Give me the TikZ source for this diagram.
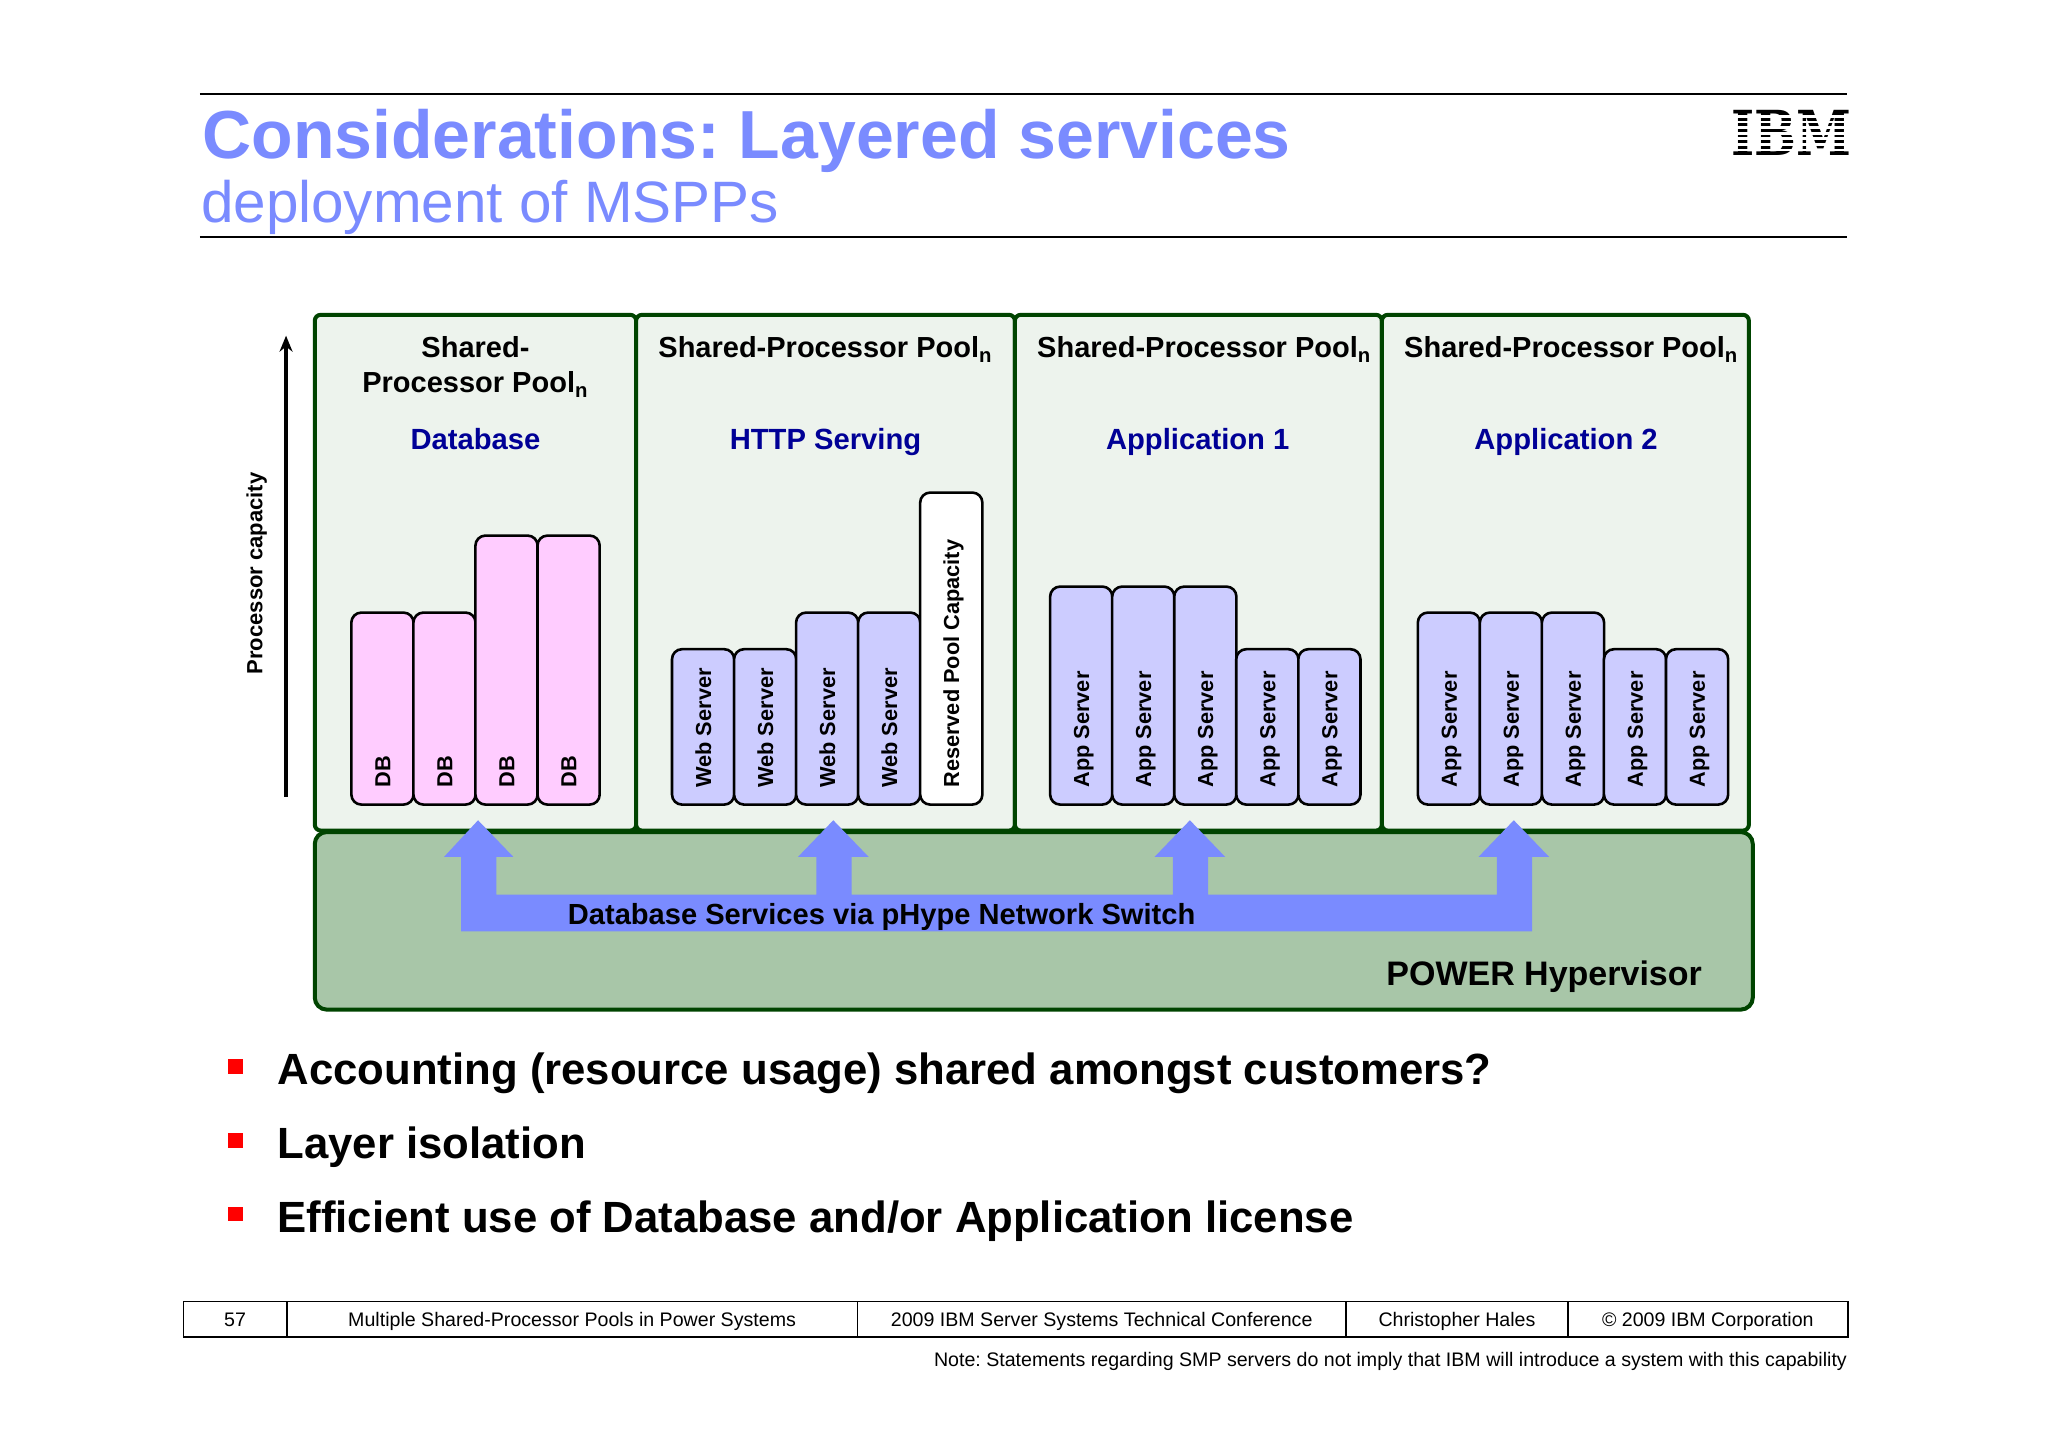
\documentclass[tikz,border=0pt]{standalone}
\usepackage{fontspec}
\setmainfont{Liberation Sans}
\setsansfont{Liberation Sans}
\newfontfamily\logofont{DejaVu Serif}
\frenchspacing
\usetikzlibrary{arrows.meta}
\definecolor{ibmblue}{RGB}{122,139,255}
\definecolor{poolfill}{RGB}{237,243,237}
\definecolor{poolline}{RGB}{0,68,0}
\definecolor{hypfill}{RGB}{168,198,168}
\definecolor{dbpink}{RGB}{255,204,255}
\definecolor{srvlilac}{RGB}{204,204,255}
\definecolor{poolname}{RGB}{0,0,150}
\tikzset{
	align=center,
	plain/.style={
		inner sep=0pt,
		outer sep=0pt,
	},
	bar/.style={
		draw,
		line width=1.3pt,
		rounded corners=5pt,
		rotate=90,
		anchor=north west,
		outer sep=0pt,
		inner xsep=8.5pt,
		inner ysep=0pt,
		minimum height=31.1pt,
		text width=#1-17pt,
		text height=7.9pt,
		text depth=0pt,
		align=flush left,
		font=\bfseries\fontsize{10.88}{13}\selectfont,
	},
	dbbar/.style={bar=#1, fill=dbpink},
	srvbar/.style={bar=#1, fill=srvlilac},
	freebar/.style={bar=#1, fill=white},
	pool/.style={
		draw=poolline,
		fill=poolfill,
		line width=2pt,
		rounded corners=3pt,
		anchor=north west,
		outer sep=0pt,
		minimum height=257.9pt,
	},
	hypervisor/.style={
		draw=poolline,
		fill=hypfill,
		line width=2pt,
		rounded corners=6pt,
		anchor=north west,
		outer sep=0pt,
	},
	poolhead/.style={plain, font=\bfseries\fontsize{14.5}{17.6}\selectfont},
	workload/.style={plain, anchor=base, text=poolname, font=\bfseries\fontsize{14.6}{17.6}\selectfont},
	bullet/.style={plain, fill=red, minimum size=7.4pt},
	point/.style={plain, anchor=base west, font=\bfseries\fontsize{21.85}{26}\selectfont},
	cell/.style={
		draw,
		line width=0.9pt,
		anchor=north west,
		outer sep=0pt,
		inner sep=0pt,
		minimum height=17.6pt,
		text height=7.2pt,
		text depth=0pt,
		font=\fontsize{9.8}{12}\selectfont,
	},
	rule/.style={line width=1pt},
	logostripe/.style={draw=white, line width=1.3pt},
}
\begin{document}
\begin{tikzpicture}[x=0.65306pt,y=-0.65306pt]
	\useasboundingbox[fill=white] (0,0) rectangle (1568,1108);

	% heading
	\coordinate (ruletopl) at (153,72);
	\coordinate (ruletopr) at (1414,72);
	\coordinate (rulebotl) at (153,181.5);
	\coordinate (rulebotr) at (1414,181.5);
	\draw[rule] (ruletopl) -- (ruletopr);
	\draw[rule] (rulebotl) -- (rulebotr);
	\node[plain, anchor=base west, text=ibmblue, font=\bfseries\fontsize{34}{40}\selectfont] (title) at (155,121) {Considerations: Layered services};
	\node[plain, anchor=base west, text=ibmblue, font=\fontsize{29.2}{34}\selectfont] (subtitle) at (154,170) {deployment of MSPPs};

	\node[plain, xscale=0.8, font=\logofont\bfseries\fontsize{31}{34}\selectfont] (logo) at (1371.5,102) {IBM};
	\draw[logostripe] (1320,89.2) -- (1422,89.2) (1320,93.5) -- (1422,93.5) (1320,97.8) -- (1422,97.8) (1320,102) -- (1422,102) (1320,106.2) -- (1422,106.2) (1320,110.5) -- (1422,110.5) (1320,114.8) -- (1422,114.8);

	% capacity axis
	\coordinate (capbase) at (219,610);
	\coordinate (captop) at (219,257);
	\draw[line width=1.6pt, -{Stealth[length=8pt,width=6.5pt]}] (capbase) -- (captop);
	\node[plain, rotate=90, font=\bfseries\fontsize{11}{13}\selectfont] (capacity) at (196.5,439) {Processor capacity};

	% pools
	\node[pool, minimum width=160.7pt] (pooldb) at (241,241) {};
	\node[pool, minimum width=189.4pt] (poolhttp) at (487,241) {};
	\node[pool, minimum width=183.5pt] (poolappone) at (777,241) {};
	\node[pool, minimum width=183.5pt] (poolapptwo) at (1058,241) {};

	\node[poolhead] (headdb) at (364,281) {Shared-\\Processor Pool\textsubscript{n}};
	\node[poolhead] (headhttp) at (632,267.5) {Shared-Processor Pool\textsubscript{n}};
	\node[poolhead] (headappone) at (922,267.5) {Shared-Processor Pool\textsubscript{n}};
	\node[poolhead] (headapptwo) at (1203,267.5) {Shared-Processor Pool\textsubscript{n}};

	\node[workload] (namedb) at (364,344) {Database};
	\node[workload] (namehttp) at (632,344) {HTTP Serving};
	\node[workload] (nameappone) at (917,344) {Application 1};
	\node[workload] (nameapptwo) at (1199,344) {Application 2};

	% partitions
	\node[dbbar=96pt] (dba) at (269,616) {DB};
	\node[dbbar=96pt] (dbb) at (316.5,616) {DB};
	\node[dbbar=134.5pt] (dbc) at (364,616) {DB};
	\node[dbbar=134.5pt] (dbd) at (411.5,616) {DB};

	\node[srvbar=77.7pt] (weba) at (514.5,616) {Web Server};
	\node[srvbar=77.7pt] (webb) at (562,616) {Web Server};
	\node[srvbar=96pt] (webc) at (609.5,616) {Web Server};
	\node[srvbar=96pt] (webd) at (657,616) {Web Server};
	\node[freebar=156pt] (reserved) at (704.5,616) {Reserved Pool Capacity};

	\node[srvbar=109pt] (appa) at (804,616) {App Server};
	\node[srvbar=109pt] (appb) at (851.5,616) {App Server};
	\node[srvbar=109pt] (appc) at (899,616) {App Server};
	\node[srvbar=77.7pt] (appd) at (946.5,616) {App Server};
	\node[srvbar=77.7pt] (appe) at (994,616) {App Server};

	\node[srvbar=96pt] (appf) at (1085.5,616) {App Server};
	\node[srvbar=96pt] (appg) at (1133,616) {App Server};
	\node[srvbar=96pt] (apph) at (1180.5,616) {App Server};
	\node[srvbar=77.7pt] (appi) at (1228,616) {App Server};
	\node[srvbar=77.7pt] (appj) at (1275.5,616) {App Server};

	% hypervisor and switch
	\node[hypervisor, minimum width=719pt, minimum height=88.8pt] (hyper) at (241,637) {};
	\fill[ibmblue] (353,713) -- (353,656) -- (340,656) -- (366,628) -- (393,656) -- (380,656) -- (380,685)
		-- (625,685) -- (625,656) -- (611,656) -- (638,628) -- (665,656) -- (652,656) -- (652,685)
		-- (898,685) -- (898,656) -- (884,656) -- (911,628) -- (938,656) -- (925,656) -- (925,685)
		-- (1146,685) -- (1146,656) -- (1132,656) -- (1159,628) -- (1186,656) -- (1173,656) -- (1173,713) -- cycle;
	\node[plain, font=\bfseries\fontsize{14.55}{18}\selectfont] (switch) at (675,702) {Database Services via pHype Network Switch};
	\node[plain, anchor=east, font=\bfseries\fontsize{17}{20}\selectfont] (hyperlabel) at (1303,748) {POWER Hypervisor};

	% points
	\node[bullet] (bulleta) at (180.5,816.5) {};
	\node[bullet] (bulletb) at (180.5,873) {};
	\node[bullet] (bulletc) at (180.5,929.5) {};
	\node[point] (pointa) at (212.5,830) {Accounting (resource usage) shared amongst customers?};
	\node[point] (pointb) at (212.5,887) {Layer isolation};
	\node[point] (pointc) at (212.5,943.5) {Efficient use of Database and/or Application license};

	% footer
	\node[cell, minimum width=51.6pt] (pageno) at (140.5,996.5) {57};
	\node[cell, minimum width=285.4pt] (talk) at (219.5,996.5) {Multiple Shared-Processor Pools in Power Systems};
	\node[cell, minimum width=244.2pt] (conf) at (656.5,996.5) {2009 IBM Server Systems Technical Conference};
	\node[cell, minimum width=111pt] (speaker) at (1030.5,996.5) {Christopher Hales};
	\node[cell, minimum width=139.8pt] (copy) at (1200.5,996.5) {© 2009 IBM Corporation};
	\node[plain, anchor=base east, font=\fontsize{9.8}{12}\selectfont] (note) at (1414,1046) {Note: Statements regarding SMP servers do not imply that IBM will introduce a system with this capability};
\end{tikzpicture}
\end{document}
